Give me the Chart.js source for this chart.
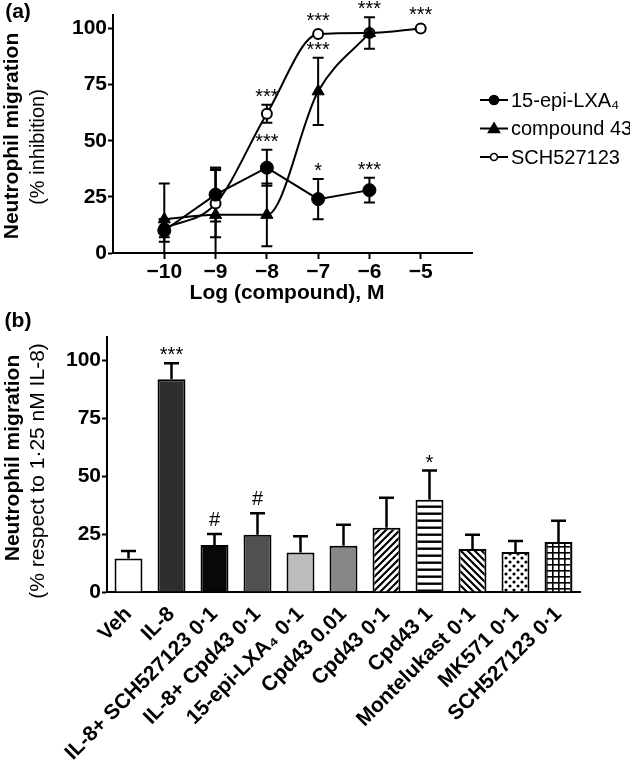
<!DOCTYPE html>
<html>
<head>
<meta charset="utf-8">
<script src="https://cdn.jsdelivr.net/npm/chart.js@4.4.1/dist/chart.umd.min.js"></script>
<style>
  html, body { margin: 0; padding: 0; background: #fff; }
  canvas { display: block; }
  #chartB { margin-top: -12px; }
</style>
</head>
<body>
<canvas id="chartA" width="630" height="312"></canvas>
<canvas id="chartB" width="630" height="468"></canvas>
<script>
// ---- panel (a): concentration response ----
const logDose = [-10, -9, -8, -7, -6, -5];
const xTicksA = [-10, -9, -8, -7, -6, -5];
const yTicksA = [0, 25, 50, 75, 100];

const lxaMean = [10, 26, 38, 24, 28];
const lxaErr = [5, 12, 8, 9, 5.5];
const lxaStars = ['', '', '***', '*', '***'];

const cpdMean = [15, 17, 17, 72, 98];
const cpdErr = [16, 21, 14, 15, 7];
const cpdStars = ['', '', '', '***', '***'];

const schMean = [11, 22, 62, 97.5, 98, 100];
const schErr = [4, 15, 4, 0, 0, 0];
const schStars = ['', '', '***', '***', '', '***'];

// ---- panel (b): single concentrations ----
const groups = ['Veh', 'IL-8', 'IL-8+ SCH527123 0·1', 'IL-8+ Cpd43 0·1', '15-epi-LXA₄ 0·1', 'Cpd43 0.01',
  'Cpd43 0·1', 'Cpd43 1', 'Montelukast 0·1', 'MK571 0·1', 'SCH527123 0·1'];
const migration = [14.5, 91.8, 20.3, 24.7, 17, 20, 27.7, 39.8, 18.6, 17.3, 21.6];
const migrationErr = [3.2, 6.9, 4.7, 9.3, 7, 9, 13, 12.6, 6.1, 4.7, 9.1];
const migrationSig = ['', '***', '#', '#', '', '', '', '*', '', '', ''];
const yTicksB = [0, 25, 50, 75, 100];

const FONT = "'Liberation Sans', Arial, 'DejaVu Sans', sans-serif";
Chart.defaults.font.family = FONT;
Chart.defaults.color = '#000';
Chart.defaults.animation = false;

const tickFont = { family: FONT, size: 21, weight: 'bold' };

function valueOf(ds, i) {
  const d = ds.data[i];
  return typeof d === 'object' ? d.y : d;
}

// error bars, drawn from each dataset's `errors` array
const errorBars = {
  id: 'errorBars',
  draw(chart, opts) {
    const ctx = chart.ctx;
    const area = chart.chartArea;
    const yScale = chart.scales.y;
    ctx.save();
    ctx.beginPath();
    ctx.rect(area.left, 0, area.width + 20, area.bottom);
    ctx.clip();
    ctx.strokeStyle = '#000';
    ctx.lineWidth = opts.width;
    chart.data.datasets.forEach((ds, di) => {
      if (!ds.errors) return;
      chart.getDatasetMeta(di).data.forEach((el, i) => {
        const e = ds.errors[i];
        if (!e) return;
        const v = valueOf(ds, i);
        const top = yScale.getPixelForValue(v + e);
        const bot = opts.upOnly ? yScale.getPixelForValue(v) : yScale.getPixelForValue(v - e);
        const h = opts.cap / 2;
        ctx.beginPath();
        ctx.moveTo(el.x, top);
        ctx.lineTo(el.x, bot);
        ctx.moveTo(el.x - h, top);
        ctx.lineTo(el.x + h, top);
        if (!opts.upOnly) {
          ctx.moveTo(el.x - h, bot);
          ctx.lineTo(el.x + h, bot);
        }
        ctx.stroke();
      });
    });
    ctx.restore();
  },
  beforeDatasetsDraw(chart, args, opts) {
    if (opts.under) this.draw(chart, opts);
  },
  afterDatasetsDraw(chart, args, opts) {
    if (!opts.under) this.draw(chart, opts);
  }
};

// significance marks above each point / bar
const sigMarks = {
  id: 'sigMarks',
  afterDatasetsDraw(chart, args, opts) {
    const ctx = chart.ctx;
    const yScale = chart.scales.y;
    ctx.save();
    ctx.fillStyle = '#000';
    ctx.textAlign = 'center';
    ctx.textBaseline = 'alphabetic';
    ctx.font = opts.size + 'px ' + FONT;
    chart.data.datasets.forEach((ds, di) => {
      if (!ds.marks) return;
      chart.getDatasetMeta(di).data.forEach((el, i) => {
        const m = ds.marks[i];
        if (!m) return;
        const e = ds.errors ? ds.errors[i] : 0;
        const v = valueOf(ds, i);
        let top = yScale.getPixelForValue(v + e);
        if (!e && el.options.radius) top = el.y - el.options.radius;
        const lift = m.indexOf('#') >= 0 ? opts.hashGap : opts.starGap;
        ctx.fillText(m, el.x, top - lift);
      });
    });
    ctx.restore();
  }
};

// free text: panel letters, axis titles
const freeText = {
  id: 'freeText',
  afterDraw(chart, args, opts) {
    const ctx = chart.ctx;
    (opts.items || []).forEach(t => {
      ctx.save();
      ctx.fillStyle = '#000';
      ctx.font = (t.bold ? 'bold ' : '') + t.size + 'px ' + FONT;
      ctx.textAlign = 'center';
      ctx.textBaseline = 'middle';
      ctx.translate(t.x, t.y);
      if (t.rotate) ctx.rotate(t.rotate);
      ctx.fillText(t.text, 0, 0);
      ctx.restore();
    });
  }
};

// legend with line-through-marker samples
const lineLegend = {
  id: 'lineLegend',
  afterDraw(chart, args, opts) {
    const ctx = chart.ctx;
    ctx.save();
    chart.data.datasets.forEach((ds, i) => {
      const y = opts.y + i * opts.rowGap;
      ctx.strokeStyle = '#000';
      ctx.lineWidth = 2;
      ctx.beginPath();
      ctx.moveTo(opts.x, y);
      ctx.lineTo(opts.x + opts.lineLen, y);
      ctx.stroke();
      const cx = opts.x + opts.lineLen / 2;
      ctx.fillStyle = ds.pointBackgroundColor;
      ctx.beginPath();
      if (ds.pointStyle === 'triangle') {
        const r = 5.5;
        ctx.moveTo(cx, y - r);
        ctx.lineTo(cx + r, y + r * 0.7);
        ctx.lineTo(cx - r, y + r * 0.7);
        ctx.closePath();
      } else {
        ctx.arc(cx, y, ds.pointBackgroundColor === '#fff' ? 3.5 : 4.5, 0, Math.PI * 2);
      }
      ctx.fill();
      ctx.lineWidth = 1.6;
      ctx.stroke();
      ctx.fillStyle = '#000';
      ctx.font = opts.size + 'px ' + FONT;
      ctx.textAlign = 'left';
      ctx.textBaseline = 'middle';
      ctx.fillText(ds.label, opts.x + opts.lineLen + 3, y + 1);
    });
    ctx.restore();
  }
};

const ptsOf = ys => ys.map((y, i) => ({ x: logDose[i], y: y }));

new Chart(document.getElementById('chartA'), {
  type: 'scatter',
  data: {
    datasets: [
      {
        label: '15-epi-LXA₄', data: ptsOf(lxaMean), errors: lxaErr, marks: lxaStars,
        showLine: true, tension: 0, borderColor: '#000', borderWidth: 2,
        pointStyle: 'circle', pointRadius: 6.5, pointBackgroundColor: '#000',
        pointBorderColor: '#000', pointBorderWidth: 1
      },
      {
        label: 'compound 43', data: ptsOf(cpdMean), errors: cpdErr, marks: cpdStars,
        showLine: true, cubicInterpolationMode: 'monotone', borderColor: '#000', borderWidth: 2,
        pointStyle: 'triangle', pointRadius: 7, pointBackgroundColor: '#000',
        pointBorderColor: '#000', pointBorderWidth: 1
      },
      {
        label: 'SCH527123', data: ptsOf(schMean), errors: schErr, marks: schStars,
        showLine: true, cubicInterpolationMode: 'monotone', borderColor: '#000', borderWidth: 2,
        pointStyle: 'circle', pointRadius: 5, pointBackgroundColor: '#fff',
        pointBorderColor: '#000', pointBorderWidth: 2
      }
    ]
  },
  options: {
    responsive: false,
    events: [],
    layout: { padding: { left: 0, right: 158, top: 15, bottom: 12 } },
    plugins: {
      legend: { display: false },
      tooltip: { enabled: false },
      errorBars: { under: true, width: 2, cap: 11 },
      sigMarks: { size: 20, starGap: 2, hashGap: 4 },
      lineLegend: { x: 480, y: 100, rowGap: 28.5, lineLen: 28, size: 20 },
      freeText: {
        items: [
          { text: '(a)', x: 18, y: 12, size: 21, bold: true },
          { text: 'Neutrophil migration', x: 12, y: 136, size: 21, bold: true, rotate: -Math.PI / 2 },
          { text: '(% inhibition)', x: 38, y: 147, size: 20, rotate: -Math.PI / 2 },
          { text: 'Log (compound), M', x: 287, y: 293, size: 21, bold: true }
        ]
      }
    },
    scales: {
      x: {
        type: 'linear', min: -11, max: -4,
        afterBuildTicks: s => { s.ticks = xTicksA.map(v => ({ value: v })); },
        afterFit: s => { s.height = 47; },
        grid: { display: true, drawOnChartArea: false, tickLength: 6, tickColor: '#000', tickWidth: 2 },
        border: { color: '#000', width: 2 },
        ticks: { font: tickFont, padding: 1, callback: v => (v < 0 ? '−' : '') + Math.abs(v) }
      },
      y: {
        min: 0, max: 106,
        afterBuildTicks: s => { s.ticks = yTicksA.map(v => ({ value: v })); },
        afterFit: s => { s.width = 113; },
        grid: { display: true, drawOnChartArea: false, tickLength: 5, tickColor: '#000', tickWidth: 2 },
        border: { color: '#000', width: 2 },
        ticks: { font: tickFont, padding: 1 }
      }
    }
  },
  plugins: [errorBars, sigMarks, lineLegend, freeText]
});

// fill patterns for the open-symbol bars
function hatch(kind) {
  const s = kind === 'grid' ? 6 : (kind === 'dots' ? 8 : 7);
  const c = document.createElement('canvas');
  c.width = s; c.height = s;
  const g = c.getContext('2d');
  g.fillStyle = '#fff';
  g.fillRect(0, 0, s, s);
  g.strokeStyle = '#000';
  g.fillStyle = '#000';
  g.beginPath();
  if (kind === 'fwd') {
    g.lineWidth = 2.2;
    g.moveTo(-1, s + 1); g.lineTo(s + 1, -1);
    g.moveTo(-2, 2); g.lineTo(2, -2);
    g.moveTo(s - 2, s + 2); g.lineTo(s + 2, s - 2);
    g.stroke();
  } else if (kind === 'back') {
    g.lineWidth = 2.2;
    g.moveTo(-1, -1); g.lineTo(s + 1, s + 1);
    g.moveTo(s - 2, -2); g.lineTo(s + 2, 2);
    g.moveTo(-2, s - 2); g.lineTo(2, s + 2);
    g.stroke();
  } else if (kind === 'horiz') {
    g.fillRect(0, 2.5, s, 2.4);
  } else if (kind === 'dots') {
    g.arc(2, 2, 1.6, 0, Math.PI * 2);
    g.moveTo(7.6, 6);
    g.arc(6, 6, 1.6, 0, Math.PI * 2);
    g.fill();
  } else if (kind === 'grid') {
    g.fillRect(0, 0, 1.6, s);
    g.fillRect(0, 0, s, 1.6);
  }
  return g.createPattern(c, 'repeat');
}

const barFills = ['#ffffff', '#2e2e2e', '#080808', '#505050', '#bdbdbd', '#878787',
  hatch('fwd'), hatch('horiz'), hatch('back'), hatch('dots'), hatch('grid')];

new Chart(document.getElementById('chartB'), {
  type: 'bar',
  data: {
    labels: groups,
    datasets: [{
      data: migration, errors: migrationErr, marks: migrationSig,
      backgroundColor: barFills, borderColor: '#000', borderWidth: 2,
      barPercentage: 0.65, categoryPercentage: 1
    }]
  },
  options: {
    responsive: false,
    events: [],
    layout: { padding: { left: 0, right: 50, top: 37, bottom: 0 } },
    plugins: {
      legend: { display: false },
      tooltip: { enabled: false },
      errorBars: { under: false, upOnly: true, width: 2.5, cap: 15 },
      sigMarks: { size: 20, starGap: 2, hashGap: 8 },
      freeText: {
        items: [
          { text: '(b)', x: 18, y: 21, size: 21, bold: true },
          { text: 'Neutrophil migration', x: 13, y: 158, size: 21, bold: true, rotate: -Math.PI / 2 },
          { text: '(% respect to 1·25 nM IL-8)', x: 38, y: 171, size: 21, rotate: -Math.PI / 2 }
        ]
      }
    },
    scales: {
      x: {
        afterFit: s => { s.height = 176; },
        grid: { display: false, drawTicks: false },
        border: { color: '#000', width: 2 },
        ticks: { font: tickFont, minRotation: 45, maxRotation: 45, padding: 10, autoSkip: false }
      },
      y: {
        min: 0, max: 110,
        afterBuildTicks: s => { s.ticks = yTicksB.map(v => ({ value: v })); },
        afterFit: s => { s.width = 107; },
        grid: { display: true, drawOnChartArea: false, tickLength: 5, tickColor: '#000', tickWidth: 2 },
        border: { color: '#000', width: 2 },
        ticks: { font: tickFont, padding: 1 }
      }
    }
  },
  plugins: [errorBars, sigMarks, freeText]
});
</script>
</body>
</html>
